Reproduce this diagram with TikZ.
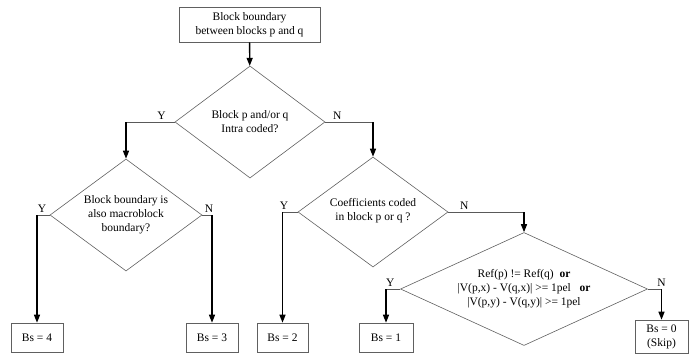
\documentclass[tikz,border=0pt]{standalone}
\usepackage{fontspec}
\setmainfont{Liberation Serif}
\usetikzlibrary{shapes.geometric, arrows.meta}

\tikzset{
  process/.style={draw=gray!75!black, line width=0.6pt, minimum width=52pt, minimum height=29pt, inner sep=1pt, align=center},
  decision/.style={draw=gray!75!black, line width=0.6pt, diamond, inner sep=0pt},
  txt/.style={align=center, inner sep=0pt},
  flow/.style={line width=1.3pt, -{Triangle[width=6pt,length=8pt]}},
  branch/.style={draw=gray!70!black, line width=0.7pt},
  yn/.style={above, inner sep=2.5pt},
}

\begin{document}
\begin{tikzpicture}[x=1pt, y=-1pt, font=\fontsize{11.5}{14}\selectfont]
\useasboundingbox (0,0) rectangle (698,354);

% boxes and decisions
\node[process, minimum width=141pt, minimum height=35pt] (start) at (249.5,24.5) {Block boundary\\between blocks p and q};
\node[decision, minimum width=150pt, minimum height=112pt] (intra) at (250,122) {};
\node[txt] (intra-t) at (intra) {Block p and/or q\\Intra coded?};
\node[decision, minimum width=152pt, minimum height=112pt] (mbedge) at (126,215) {};
\node[txt] (mbedge-t) at (mbedge) {Block boundary is\\also macroblock\\boundary?};
\node[decision, minimum width=150pt, minimum height=110pt] (coef) at (373,212) {};
\node[txt] (coef-t) at ([yshift=1.5pt]coef.center) {Coefficients coded\\in block p or q ?};
\node[decision, minimum width=247pt, minimum height=113pt] (refmv) at (524,289) {};
\node[txt] (refmv-t) at (refmv) {Ref(p) != Ref(q)\ \ \textbf{or}\\|V(p,x) - V(q,x)| >= 1pel\ \ \ \textbf{or}\\|V(p,y) - V(q,y)| >= 1pel};

\node[process] (bs4) at (37,337.5) {Bs = 4};
\node[process] (bs3) at (212,337.5) {Bs = 3};
\node[process, minimum width=51pt] (bs2) at (282.5,337.5) {Bs = 2};
\node[process, minimum width=54pt] (bs1) at (386,337.5) {Bs = 1};
\node[process, minimum width=53pt, minimum height=33pt] (bs0) at (661.5,336.5) {Bs = 0\\(Skip)};

% connectors
\draw[flow] (start) -- (intra);

\draw[branch] (intra.west) -- node[yn, pos=.27] (y1) {Y} (intra.west -| mbedge.north);
\draw[flow] (intra.west -| mbedge.north) -- (mbedge.north);
\draw[branch] (intra.east) -- node[yn, pos=.25] (n1) {N} (intra.east -| coef.north);
\draw[flow] (intra.east -| coef.north) -- (coef.north);

\draw[branch] (mbedge.west) -- node[yn, pos=.6] (y2) {Y} (mbedge.west -| bs4.north);
\draw[flow] (mbedge.west -| bs4.north) -- (bs4.north);
\draw[branch] (mbedge.east) -- node[yn, pos=.7] (n2) {N} (mbedge.east -| bs3.north);
\draw[flow] (mbedge.east -| bs3.north) -- (bs3.north);

\draw[branch] (coef.west) -- node[yn, pos=.9] (y3) {Y} (coef.west -| bs2.north);
\draw[flow] (coef.west -| bs2.north) -- (bs2.north);
\draw[branch] (coef.east) -- node[yn, pos=.21] (n3) {N} (coef.east -| refmv.north);
\draw[flow] (coef.east -| refmv.north) -- (refmv.north);

\draw[branch] (refmv.west) -- node[yn, pos=.7] (y4) {Y} (refmv.west -| bs1.north);
\draw[flow] (refmv.west -| bs1.north) -- (bs1.north);
\draw[branch] (refmv.east) -- node[yn, pos=1] (n4) {N} (refmv.east -| bs0.north);
\draw[flow] (refmv.east -| bs0.north) -- (bs0.north);
\end{tikzpicture}
\end{document}
